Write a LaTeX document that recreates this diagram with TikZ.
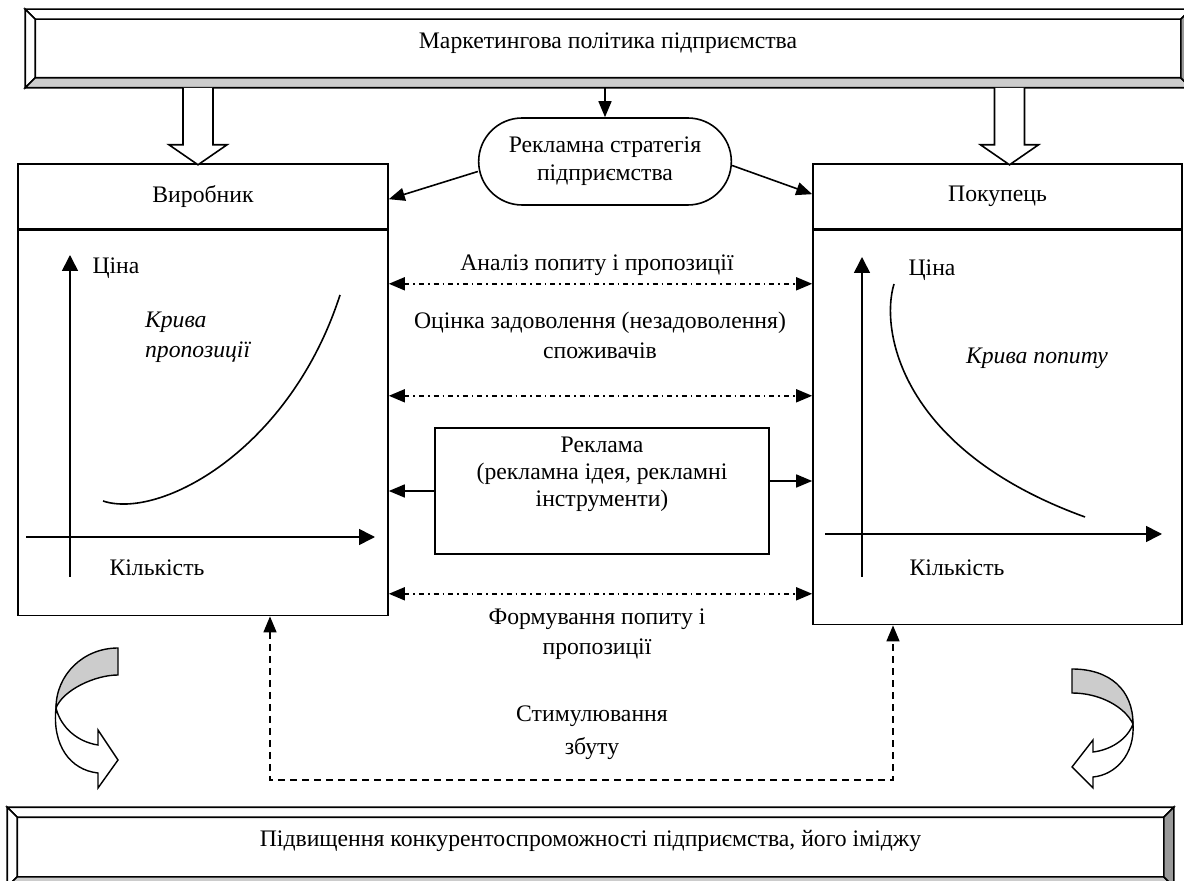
\documentclass[tikz,border=0pt]{standalone}
\usepackage{fontspec}
\setmainfont{Liberation Serif}
\usetikzlibrary{arrows.meta,positioning,calc,shapes.misc}

\begin{document}
\begin{tikzpicture}[x=0.5pt,y=-0.5pt,
  font=\fontsize{11.85}{14.5}\selectfont,
  box/.style={draw,line width=0.8pt,inner sep=0pt},
  bevelbox/.style={draw,line width=0.8pt,inner sep=0pt},
  arr/.style={-{Triangle[length=8pt,width=6.5pt]},line width=0.8pt},
  dotarr/.style={{Triangle[length=8pt,width=6.5pt]}-{Triangle[length=8pt,width=6.5pt]},
                 line width=0.8pt,dash pattern=on 2.5pt off 2pt on 0.8pt off 2pt},
  dasharr/.style={{Triangle[length=8pt,width=6.5pt]}-{Triangle[length=8pt,width=6.5pt]},
                  line width=0.8pt,dash pattern=on 3.5pt off 2.5pt},
  axis/.style={-{Triangle[length=8pt,width=8pt]},line width=0.8pt},
  hollow/.style={draw,fill=white,line width=0.8pt},
  ribbon/.style={draw,line width=0.7pt},
  curvelabel/.style={font=\fontsize{11.85}{15}\selectfont\itshape}]
  \useasboundingbox (0,0) rectangle (1184,881);

  \node[bevelbox,minimum width=582pt,minimum height=38.5pt,text depth=8pt] (mkt) at (608,48.5)
       {Маркетингова політика підприємства};
  \node[bevelbox,minimum width=582.5pt,minimum height=39pt,text depth=9pt] (res) at (590.5,847)
       {Підвищення конкурентоспроможності підприємства, його іміджу};
  \foreach \b in {mkt,res}{
    \coordinate (i1) at ([shift={(5pt,-5pt)}]\b.north west);
    \coordinate (i2) at ([shift={(-5pt,-5pt)}]\b.north east);
    \coordinate (i3) at ([shift={(-5pt,5pt)}]\b.south east);
    \coordinate (i4) at ([shift={(5pt,5pt)}]\b.south west);
    \filldraw[line width=0.8pt,fill=white] (\b.north west) -- (\b.north east) -- (i2) -- (i1) -- cycle;
    \filldraw[line width=0.8pt,fill=white] (\b.north west) -- (i1) -- (i4) -- (\b.south west) -- cycle;
    \filldraw[line width=0.8pt,fill=black!20] (\b.south west) -- (i4) -- (i3) -- (\b.south east) -- cycle;
    \filldraw[line width=0.8pt,fill=black!40] (\b.north east) -- (i2) -- (i3) -- (\b.south east) -- cycle;
  }

  \node[box,minimum width=185pt,minimum height=32.5pt] (prodH) at (203,196.5) {Виробник};
  \node[box,minimum width=185pt,minimum height=192.5pt,below=0pt of prodH] (prod) {};
  \node[box,minimum width=184.5pt,minimum height=32.5pt] (consH) at (997.5,196.5) {Покупець};
  \node[box,minimum width=184.5pt,minimum height=197pt,below=0pt of consH] (cons) {};

  \node[draw,rounded rectangle,line width=0.8pt,minimum width=133pt,minimum height=43.5pt,
        align=center,font=\fontsize{11.85}{14}\selectfont] (strat) at (605,161.5)
       {Рекламна стратегія\\підприємства};
  \coordinate (hl) at (198,0);
  \coordinate (hr) at (1009.5,0);
  \filldraw[hollow,shift={(hl |- mkt.south)}]
    (-15,0) -- (-15,57) -- (-29,57) -- (0,77) -- (29,57) -- (15,57) -- (15,0);
  \filldraw[hollow,shift={(hr |- mkt.south)}]
    (-15,0) -- (-15,57) -- (-29,57) -- (0,77) -- (29,57) -- (15,57) -- (15,0);
  \draw[arr] (mkt.south -| strat.north) -- (strat.north);
  \draw[arr] ([yshift=-5pt]strat.west) -- ([yshift=-18pt]prodH.north east);
  \draw[arr] ([yshift=-2pt]strat.east) -- ([yshift=-15.5pt]consH.north west);

  \draw[axis] (70,577) -- (70,255);
  \draw[axis] (26,537) -- (375,537);
  \draw[line width=0.8pt] (103,501) .. controls (160,520) and (290,450) .. (340,295);
  \node (pL) at (116,268) {Ціна};
  \node[curvelabel,align=left,anchor=west] (sL) at (138,337) {Крива\\пропозиції};
  \node (qL) at (157,568) {Кількість};

  \draw[axis] (862,577) -- (862,257);
  \draw[axis] (825,534) -- (1162,534);
  \draw[line width=0.8pt] (894,284) .. controls (880,330) and (900,450) .. (1085,517);
  \node (pR) at (932,270) {Ціна};
  \node[curvelabel] (dR) at (1037,358) {Крива попиту};
  \node (qR) at (957,568) {Кількість};

  \node (anl) at (597,265) {Аналіз попиту і пропозиції};
  \node[align=center,font=\fontsize{11.85}{15}\selectfont] (eval) at (600,335)
       {Оцінка задоволення (незадоволення)\\споживачів};
  \foreach \d in {27,83,182}
    \draw[dotarr] ([yshift=-\d pt]prod.north east) -- ([yshift=-\d pt]cons.north west);

  \node[box,minimum width=167pt,minimum height=63pt,align=center,text depth=19pt,
        font=\fontsize{11.85}{13.5}\selectfont] (adv) at (602,491)
       {Реклама\\(рекламна ідея, рекламні\\інструменти)};
  \coordinate (ar) at ([yshift=5pt]adv.east);
  \draw[arr] (adv.west) -- (adv.west -| prod.east);
  \draw[arr] (ar) -- (ar -| cons.west);

  \node[align=center,font=\fontsize{11.85}{15}\selectfont] (form) at (597,634)
       {Формування попиту і\\пропозиції};
  \node[align=center,font=\fontsize{11.85}{16.5}\selectfont] (stim) at (592,733)
       {Стимулювання\\збуту};
  \coordinate (sl) at (270,780);
  \coordinate (sr) at (893,780);
  \draw[dasharr] (sl |- prod.south) -- (sl) -- (sr) -- (sr |- cons.south);

  \filldraw[ribbon,fill=black!20] (118,648) .. controls (83,648) and (56,675) .. (56,708)
    .. controls (63,690) and (95,675) .. (118,675) -- cycle;
  \filldraw[ribbon,fill=white] (56,708) .. controls (61,728) and (78,742) .. (98,745)
    -- (98,730) -- (118,760) -- (98,788) -- (98,773)
    .. controls (70,770) and (52,745) .. (56,708) -- cycle;
  \filldraw[ribbon,fill=black!20] (1072,669) .. controls (1110,669) and (1133,690) .. (1133,724)
    .. controls (1125,707) and (1100,693) .. (1072,693) -- cycle;
  \filldraw[ribbon,fill=white] (1133,724) .. controls (1135,755) and (1115,775) .. (1093,777)
    -- (1093,788) -- (1072,767) -- (1093,740) -- (1093,752)
    .. controls (1110,750) and (1127,740) .. (1133,724) -- cycle;
\end{tikzpicture}
\end{document}
